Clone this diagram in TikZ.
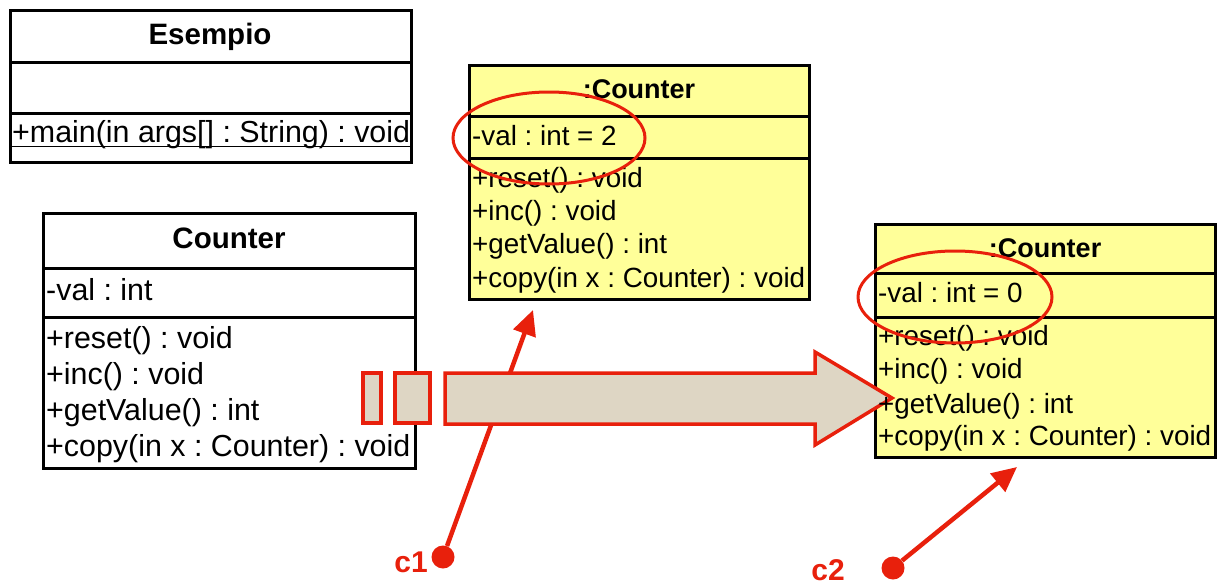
\documentclass[tikz,border=0pt]{standalone}
\usepackage{fontspec}
\setmainfont{Liberation Sans}
\usepackage{xcolor}
\usetikzlibrary{positioning,arrows.meta}
\definecolor{refred}{HTML}{E8200C}
\definecolor{objyellow}{HTML}{FFFF99}
\definecolor{copybeige}{HTML}{DED6C4}
\frenchspacing

\begin{document}
\begin{tikzpicture}[x=1pt,y=-1pt,line join=miter]
  \tikzstyle{box}=[draw=black,line width=3pt]
  \tikzstyle{cls}=[inner sep=0pt,anchor=base west,font=\fontsize{30.4}{36}\selectfont]
  \tikzstyle{clshead}=[inner sep=0pt,anchor=base,font=\fontsize{29.5}{36}\selectfont\bfseries]
  \tikzstyle{obj}=[inner sep=0pt,anchor=base west,font=\fontsize{27.8}{33}\selectfont]
  \tikzstyle{objhead}=[inner sep=0pt,anchor=base,font=\fontsize{27}{33}\selectfont\bfseries]
  \tikzstyle{ring}=[draw=refred,line width=3pt]
  \tikzstyle{ref}=[draw=refred,line width=4.5pt,-{Triangle[length=25pt,width=23pt]}]
  \tikzstyle{refdot}=[circle,fill=refred,inner sep=0pt,minimum size=23pt]
  \tikzstyle{reflabel}=[text=refred,anchor=base east,inner sep=0pt,font=\fontsize{30}{36}\selectfont\bfseries]
  \tikzstyle{copybox}=[draw=refred,fill=copybeige,line width=3.5pt]

  \useasboundingbox (0,0) rectangle (1220,586);

  % class boxes
  \draw[box] (10,11) rectangle (411,162);
  \draw[box] (10,63) -- (411,63) (10,113) -- (411,113);
  \draw[box] (43,213) rectangle (415,468);
  \draw[box] (43,268) -- (415,268) (43,317) -- (415,317);

  % object boxes
  \draw[box,fill=objyellow] (469,66) rectangle (809,299);
  \draw[box] (469,116) -- (809,116) (469,158) -- (809,158);
  \draw[box,fill=objyellow] (875,224) rectangle (1215,457);
  \draw[box] (875,273) -- (1215,273) (875,317) -- (1215,317);

  % reference c1 (runs under the copy arrow)
  \node[refdot] (C1dot) at (443,557) {};
  \coordinate (C1tip) at (533,310);
  \draw[ref] (C1dot) -- (C1tip);

  % copy arrow
  \draw[copybox] (445,373) -- (815,373) -- (815,352) -- (892,398)
                 -- (815,445) -- (815,424) -- (445,424) -- cycle;
  \draw[copybox] (363,373) rectangle (381,423);
  \draw[copybox] (395,373) rectangle (430,423);

  % Esempio
  \node[clshead] (E) at (210,45) {Esempio};
  \node[cls] (Emain) at (12,142) {+main(in args[] : String) : void};
  \draw[line width=1.6pt] ([yshift=-4.5pt]Emain.base west) -- ([yshift=-4.5pt]Emain.base east);

  % Counter
  \node[clshead] (C) at (229,248) {Counter};
  \node[cls] (Cval)   at (46,300) {-val : int};
  \node[cls] (Creset) at (46,348) {+reset() : void};
  \node[cls] (Cinc)   at (46,384) {+inc() : void};
  \node[cls] (Cget)   at (46,420) {+getValue() : int};
  \node[cls] (Ccopy)  at (46,456) {+copy(in x : Counter) : void};

  % first :Counter
  \node[objhead] (A) at (639,98) {:Counter};
  \node[obj] (Aval)   at (472,145) {-val : int = 2};
  \node[obj] (Areset) at (472,187) {+reset() : void};
  \node[obj] (Ainc)   at (472,220) {+inc() : void};
  \node[obj] (Aget)   at (472,253) {+getValue() : int};
  \node[obj] (Acopy)  at (472,287) {+copy(in x : Counter) : void};

  % second :Counter
  \node[objhead] (B) at (1045,257) {:Counter};
  \node[obj] (Bval)   at (878,302) {-val : int = 0};
  \node[obj] (Breset) at (878,345) {+reset() : void};
  \node[obj] (Binc)   at (878,378) {+inc() : void};
  \node[obj] (Bget)   at (878,413) {+getValue() : int};
  \node[obj] (Bcopy)  at (878,445) {+copy(in x : Counter) : void};

  % marked attributes
  \draw[ring] (549,138) ellipse [x radius=96pt, y radius=46pt];
  \draw[ring] (955,297) ellipse [x radius=97pt, y radius=46pt];

  % reference c2
  \node[refdot] (C2dot) at (893,568) {};
  \coordinate (C2tip) at (1017,467);
  \draw[ref] (C2dot) -- (C2tip);

  \node[reflabel] (C1) at (428,572) {c1};
  \node[reflabel] (C2) at (845,580) {c2};
\end{tikzpicture}
\end{document}
